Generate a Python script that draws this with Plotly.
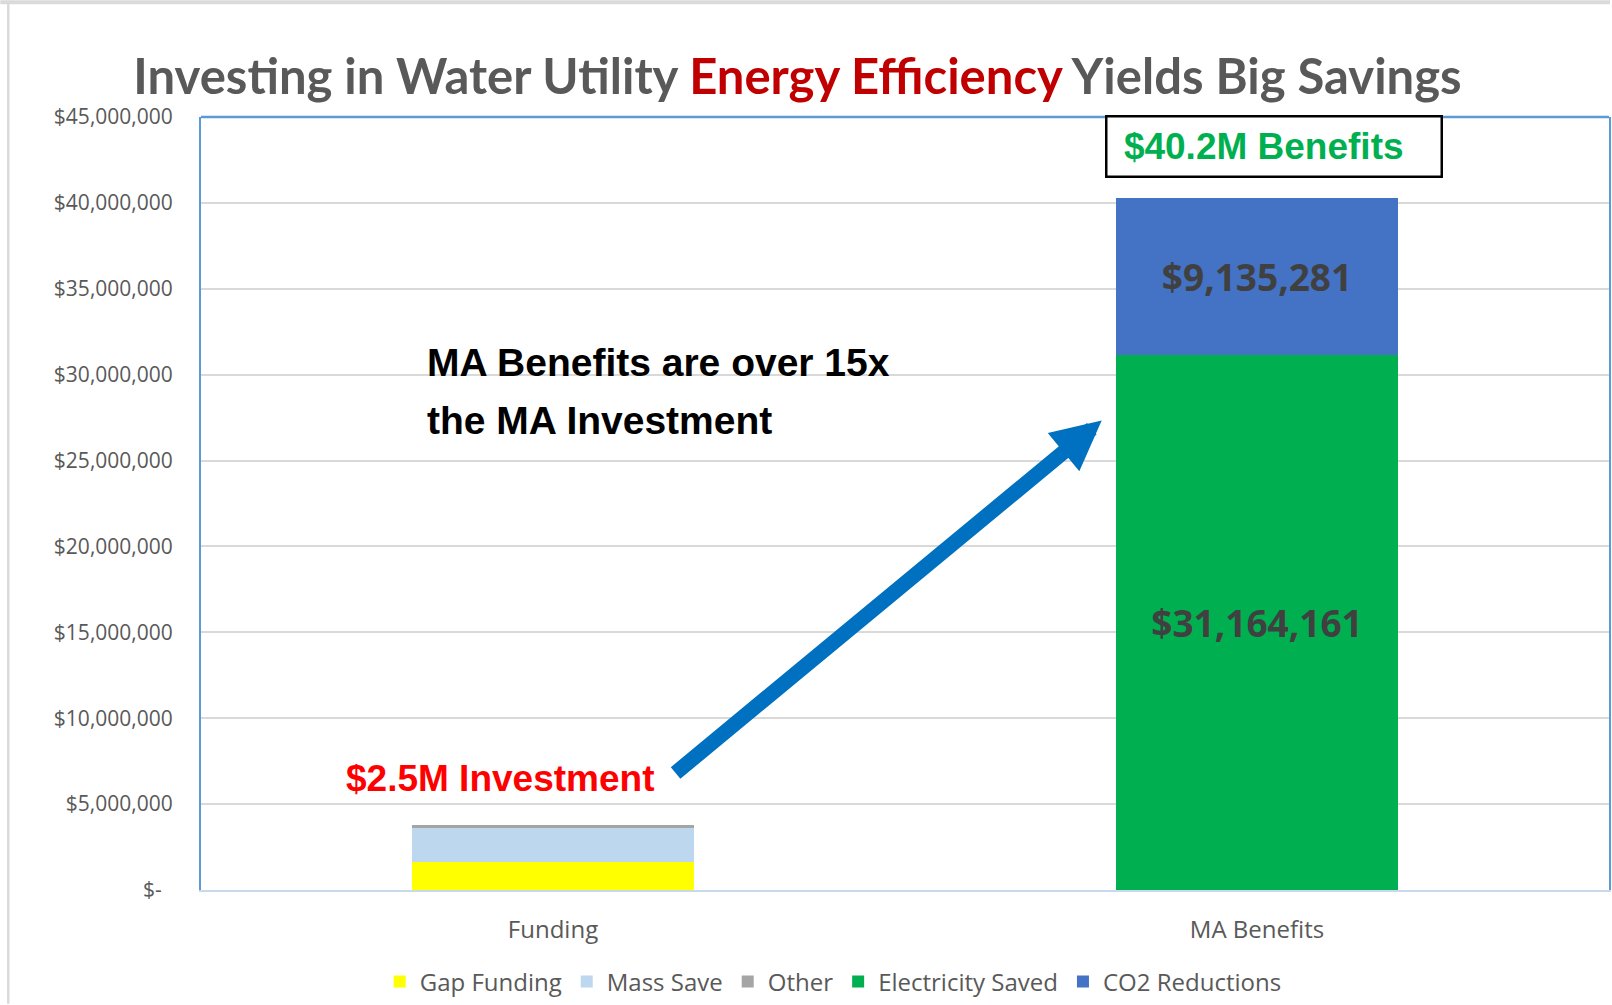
import plotly.graph_objects as go

# ---------------- data ----------------
categories = ["Funding", "MA Benefits"]
gap_funding = [1630000, None]
mass_save = [1980000, None]
other = [160000, None]
electricity_saved = [None, 31164161]
co2_reductions = [None, 9135281]

series_names = ["Gap Funding", "Mass Save", "Other", "Electricity Saved", "CO2 Reductions"]
series_values = [gap_funding, mass_save, other, electricity_saved, co2_reductions]
series_colors = ["#FFFF00", "#BDD7EE", "#A5A5A5", "#00B050", "#4472C4"]
labelled = [False, False, False, True, True]

y_tickvals = [0, 5e6, 10e6, 15e6, 20e6, 25e6, 30e6, 35e6, 40e6, 45e6]
y_ticktext = ["$-\u00a0\u00a0", "$5,000,000", "$10,000,000", "$15,000,000", "$20,000,000",
              "$25,000,000", "$30,000,000", "$35,000,000", "$40,000,000", "$45,000,000"]

# ---------------- layout constants ----------------
W, H = 1612, 1005
L, R, T, B = 201, 1, 117, 114
PW, PH = W - L - R, H - T - B


def px_x(px):
    return (px - L) / PW


def px_y(py):
    return (H - B - py) / PH


fig = go.Figure()
for name, vals, col, lab in zip(series_names, series_values, series_colors, labelled):
    txt = [f"<b>${v:,.0f}</b>" if (lab and v) else "" for v in vals]
    fig.add_trace(go.Bar(
        name=name, x=categories, y=vals, marker=dict(color=col, line=dict(width=0)),
        text=txt if lab else None,
        textposition="inside" if lab else "none",
        insidetextanchor="middle", textangle=0,
        textfont=dict(family="Open Sans", size=37, color="#404040"),
        hoverinfo="skip",
    ))

fig.update_layout(
    width=W, height=H, autosize=False,
    margin=dict(l=L, r=R, t=T, b=B),
    paper_bgcolor="white", plot_bgcolor="white",
    barmode="stack", bargap=0.6,
    showlegend=True,
    legend=dict(orientation="h", x=0.449, xanchor="center", y=-0.119, yanchor="middle",
                font=dict(family="Open Sans", size=24, color="#595959"),
                traceorder="normal", itemwidth=30, bgcolor="rgba(0,0,0,0)"),
    title=dict(
        text="<b>Investing in Water Utility <span style='color:#C00000'>Energy Efficiency</span> Yields Big Savings</b>",
        font=dict(family="Lato", size=49, color="#595959"),
        x=797.5 / W, xanchor="center", xref="container",
        y=1 - 77 / H, yanchor="middle", yref="container"),
    font=dict(family="Open Sans", color="#595959"),
)

fig.update_xaxes(
    type="category", categoryorder="array", categoryarray=categories,
    range=[-0.5, 1.5], showgrid=False,
    showline=True, linecolor="#C9D9EC", linewidth=2, mirror=False,
    ticks="", ticklabelstandoff=17,
    tickfont=dict(family="Open Sans", size=24, color="#595959"),
)
fig.update_yaxes(
    range=[0, 45e6], tickvals=y_tickvals, ticktext=y_ticktext,
    showgrid=True, gridcolor="#D9D9D9", gridwidth=2,
    showline=True, linecolor="#5B9BD5", linewidth=2, mirror=True,
    ticks="", ticklabelstandoff=22, zeroline=False,
    tickfont=dict(family="Open Sans", size=21, color="#595959"),
)

# top border of plot area
fig.add_shape(type="line", xref="paper", yref="paper", x0=0, x1=1, y0=1, y1=1,
              line=dict(color="#5B9BD5", width=2.5), layer="above")
# slide frame lines (outside plot)
fig.add_shape(type="line", xref="paper", yref="paper", x0=px_x(0), x1=px_x(W),
              y0=px_y(2), y1=px_y(2), line=dict(color="#DADADA", width=4))
fig.add_shape(type="line", xref="paper", yref="paper", x0=px_x(8), x1=px_x(8),
              y0=px_y(3), y1=px_y(H), line=dict(color="#DADADA", width=2.5))

# arrow
fig.add_annotation(x=0.7794, y=27.33e6, ax=0.172, ay=6.74e6, xref="x", yref="y",
                   axref="x", ayref="y", text="", showarrow=True,
                   arrowhead=2, arrowsize=0.66, arrowwidth=15, arrowcolor="#0070C0")

# text annotations
fig.add_annotation(x=-0.076, y=6.51e6, xref="x", yref="y", showarrow=False,
                   text="<b>$2.5M Investment</b>",
                   font=dict(family="Liberation Sans", size=37, color="#FF0000"))
fig.add_annotation(x=-0.1823, y=(H - B - 363) / PH * 45e6, xref="x", yref="y", showarrow=False,
                   xanchor="left", yanchor="middle", align="left",
                   text="<b>MA Benefits are over 15x</b>",
                   font=dict(family="Liberation Sans", size=39, color="#000000"))
fig.add_annotation(x=-0.1823, y=(H - B - 421) / PH * 45e6, xref="x", yref="y", showarrow=False,
                   xanchor="left", yanchor="middle", align="left",
                   text="<b>the MA Investment</b>",
                   font=dict(family="Liberation Sans", size=39, color="#000000"))
fig.add_annotation(x=1.024, y=43.26e6, xref="x", yref="y", showarrow=False,
                   xanchor="center", yanchor="middle",
                   text="<b>$40.2M Benefits</b>\u00a0\u00a0", width=325, height=50,
                   bordercolor="#000000", borderwidth=2.5, borderpad=4, bgcolor="white",
                   font=dict(family="Liberation Sans", size=37, color="#00B050"))

fig.write_html("out.html", config={"displayModeBar": False},
               post_script="document.body.style.margin='0px';")
